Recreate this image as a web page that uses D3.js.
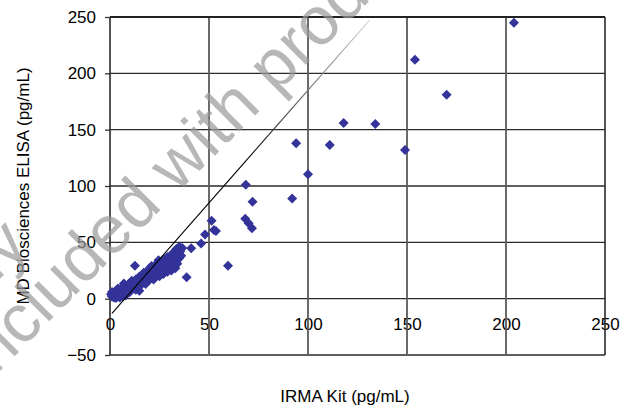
<!DOCTYPE html>
<html>
<head>
<meta charset="utf-8">
<script src="https://cdn.jsdelivr.net/npm/d3@7"></script>
<style>
  body { margin: 0; background: #fff; }
  text { font-family: "Liberation Sans", Arial, sans-serif; }
</style>
</head>
<body>
<div id="viz"></div>
<script>
// IRMA kit (x) vs MD Biosciences ELISA (y), pg/mL
let irma = [
  0.5,1,1,1.5,2,2,2.5,3,3,3.5,4,4,4.5,5,5,5.5,6,6,6.5,7,7,7.5,8,8,
  8.5,9,9.5,10,10,10.5,11,11,11.5,12,12.5,12.6,13,13,13.5,14,14.5,14.8,15,15.5,16,16,16.5,17,17,17.5,18,18,18.5,19,19,19.5,20,20,
  20.5,21,21,21.5,22,22,22.5,23,23,23.5,24,24,24.5,25,25,25.5,26,26,26.5,27,27,27.5,28,28,28.5,29,29,29.5,30,30,30.5,31,31,31.5,32,32,32.5,33,33,33.5,34,34,34.5,35,35,35.5,36,36.5,
  38.7,41,46,48,51.3,52.5,53.5,59.6,68.3,68.6,70,71.7,72,92,94,100,111,118,134,149,154,170,204
];
let elisa = [
  4,2,6,3.5,1,5,3,0.5,7,4,2,9,5.5,1,3,7,10,4.5,2,8,13.5,5,11,3,
  7,9,12,6,14,10,8,16,12,10,14,29.3,17,8,12,15,19,7,11,16,13,21,18,15,23,20,13,17,22,19,25,16,21,27,
  18,24,29,21,26,17,23,28,20,31,25,22,34,27,20,30,24,33,28,22,31,35,26,29,33,24,37,30,27,34,38,31,25,36,29,41,33,38,27,44,34,31,40,46,36,42,38,45,
  19,44.7,49,57,69.2,61,60,29.3,71,101,67,62.5,86,89,138,110.5,136.5,156,155,132,212,181,245
];

// fitted line end points (as drawn)
let fitX = [1, 131];
let fitY = [-13, 247];

let xTicks = [0, 50, 100, 150, 200, 250];
let yTicks = [-50, 0, 50, 100, 150, 200, 250];

let xTitle = 'IRMA Kit (pg/mL)',
    yTitle = 'MD Biosciences ELISA (pg/mL)';

let W = 631, H = 406,
    mLeft = 110, mRight = 605, mTop = 17, mBottom = 355,
    blue = '#333399';

let x = d3.scaleLinear().domain([0, 250]).range([mLeft, mRight]);
let y = d3.scaleLinear().domain([-50, 250]).range([mBottom, mTop]);

let svg = d3.select('#viz').append('svg')
    .attr('width', W)
    .attr('height', H);

svg.append('rect').attr('width', W).attr('height', H).attr('fill', '#fff');

// x labels sit under the zero line
let xAxis = svg.append('g')
    .attr('transform', 'translate(0,' + y(0) + ')')
    .call(d3.axisBottom(x).tickValues(xTicks).tickSize(0).tickPadding(19));
xAxis.select('.domain').remove();
xAxis.selectAll('text').attr('font-size', 17).attr('font-family', '"Liberation Sans", Arial, sans-serif').attr('fill', '#000');

// y axis: labels + little outside ticks
let yAxis = svg.append('g')
    .attr('transform', 'translate(' + mLeft + ',0)')
    .call(d3.axisLeft(y).tickValues(yTicks).tickSize(5).tickPadding(9));
yAxis.select('.domain').remove();
yAxis.selectAll('line').attr('stroke', '#333').attr('stroke-width', 1.3);
yAxis.selectAll('text').attr('font-size', 17).attr('font-family', '"Liberation Sans", Arial, sans-serif').attr('fill', '#000');

// grid
let grid = svg.append('g');
grid.selectAll('.hg').data(yTicks).enter().append('line')
    .attr('x1', mLeft).attr('x2', mRight)
    .attr('y1', d => y(d)).attr('y2', d => y(d))
    .attr('stroke', '#2a2a2a').attr('stroke-width', 1.3);
grid.selectAll('.vg').data(xTicks).enter().append('line')
    .attr('y1', mTop).attr('y2', mBottom)
    .attr('x1', d => x(d)).attr('x2', d => x(d))
    .attr('stroke', d => (d === 0 || d === 250) ? '#2a2a2a' : '#5a5a5a')
    .attr('stroke-width', d => (d === 0 || d === 250) ? 1.6 : 1.8);
grid.append('line')
    .attr('x1', mLeft).attr('x2', mRight).attr('y1', mTop).attr('y2', mTop)
    .attr('stroke', '#222').attr('stroke-width', 2);

// points
svg.append('g').selectAll('path').data(irma).enter().append('path')
    .attr('d', d3.symbol(d3.symbolSquare, 50))
    .attr('transform', (d, i) => 'translate(' + x(d) + ',' + y(elisa[i]) + ') rotate(45)')
    .attr('fill', blue);

// fit line fading out to the top
let defs = svg.append('defs');
let grad = defs.append('linearGradient')
    .attr('id', 'fade')
    .attr('gradientUnits', 'userSpaceOnUse')
    .attr('x1', x(fitX[0])).attr('y1', y(fitY[0]))
    .attr('x2', x(fitX[1])).attr('y2', y(fitY[1]));
grad.append('stop').attr('offset', 0).attr('stop-color', '#000');
grad.append('stop').attr('offset', 0.5).attr('stop-color', '#000');
grad.append('stop').attr('offset', 1).attr('stop-color', '#d8d8d8');

svg.append('line')
    .attr('x1', x(fitX[0])).attr('y1', y(fitY[0]))
    .attr('x2', x(fitX[1])).attr('y2', y(fitY[1]))
    .attr('stroke', 'url(#fade)').attr('stroke-width', 1.1);

// axis titles
svg.append('text')
    .attr('x', 345).attr('y', 402)
    .attr('text-anchor', 'middle')
    .attr('font-size', 17)
    .text(xTitle);
svg.append('text')
    .attr('transform', 'translate(29,186) rotate(-90)')
    .attr('text-anchor', 'middle')
    .attr('font-size', 17)
    .text(yTitle);

// watermark (mostly runs off the edges)
let wm = svg.append('g')
    .attr('transform', 'rotate(-45)')
    .attr('fill', '#9a9a9a')
    .attr('opacity', 0.7)
    .attr('font-size', 68);
wm.append('text')
    .attr('x', -153).attr('y', 197)
    .attr('text-anchor', 'end')
    .text('Only');
wm.append('text')
    .attr('x', -284).attr('y', 262)
    .text('included with product');
</script>
</body>
</html>
